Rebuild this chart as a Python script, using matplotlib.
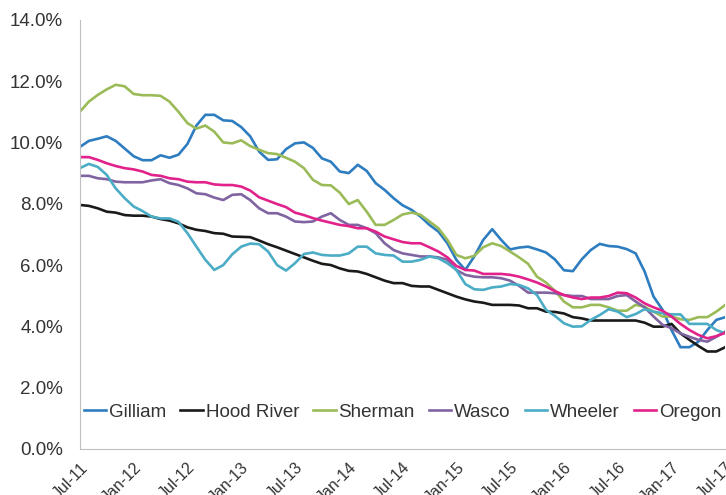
import numpy as np
import matplotlib
matplotlib.use("Agg")
import matplotlib.pyplot as plt
from matplotlib.ticker import FuncFormatter

plt.rcParams['font.family'] = ['Liberation Sans', 'DejaVu Sans']

# monthly unemployment rate, Jul-11 .. Jul-17
gilliam = [9.85, 10.05, 10.12, 10.2, 10.05, 9.8, 9.55, 9.42, 9.42, 9.58, 9.5, 9.6,
           9.95, 10.55, 10.9, 10.9, 10.72, 10.7, 10.5, 10.2, 9.7, 9.43, 9.45, 9.78,
           9.97, 10.0, 9.82, 9.48, 9.37, 9.05, 9.0, 9.27, 9.07, 8.67, 8.45, 8.18,
           7.95, 7.8, 7.58, 7.31, 7.09, 6.71, 6.17, 5.84, 6.28, 6.82, 7.17, 6.82,
           6.51, 6.57, 6.6, 6.51, 6.41, 6.18, 5.83, 5.8, 6.19, 6.49, 6.69, 6.62,
           6.6, 6.52, 6.38, 5.79, 4.97, 4.54, 3.88, 3.32, 3.32, 3.5, 3.88, 4.21, 4.3]
hood_river = [7.96, 7.93, 7.85, 7.74, 7.71, 7.63, 7.61, 7.61, 7.58, 7.5, 7.45, 7.36,
              7.23, 7.15, 7.11, 7.04, 7.02, 6.93, 6.92, 6.91, 6.8, 6.68, 6.58, 6.47,
              6.36, 6.25, 6.14, 6.04, 6.0, 5.89, 5.81, 5.79, 5.71, 5.6, 5.49, 5.41,
              5.41, 5.32, 5.3, 5.3, 5.19, 5.08, 4.97, 4.88, 4.81, 4.77, 4.7, 4.7,
              4.7, 4.68, 4.59, 4.59, 4.48, 4.47, 4.42, 4.3, 4.26, 4.19, 4.19, 4.19,
              4.19, 4.19, 4.19, 4.12, 3.99, 3.99, 4.08, 3.77, 3.56, 3.36, 3.18, 3.18, 3.32]
sherman = [11.0, 11.33, 11.55, 11.73, 11.88, 11.83, 11.58, 11.54, 11.54, 11.52, 11.33, 11.0,
           10.63, 10.45, 10.55, 10.35, 10.0, 9.97, 10.07, 9.88, 9.76, 9.65, 9.62, 9.5,
           9.37, 9.16, 8.78, 8.61, 8.6, 8.36, 7.99, 8.12, 7.74, 7.31, 7.31, 7.47,
           7.65, 7.71, 7.64, 7.42, 7.2, 6.82, 6.33, 6.22, 6.3, 6.58, 6.71, 6.62,
           6.44, 6.25, 6.04, 5.62, 5.43, 5.16, 4.81, 4.62, 4.62, 4.7, 4.7, 4.62,
           4.51, 4.51, 4.7, 4.64, 4.48, 4.32, 4.32, 4.23, 4.21, 4.3, 4.3, 4.48, 4.7]
wasco = [8.91, 8.91, 8.83, 8.8, 8.72, 8.7, 8.7, 8.7, 8.76, 8.8, 8.67, 8.61,
         8.5, 8.34, 8.31, 8.2, 8.12, 8.29, 8.31, 8.12, 7.85, 7.69, 7.69, 7.58,
         7.42, 7.4, 7.42, 7.58, 7.69, 7.47, 7.31, 7.31, 7.2, 7.04, 6.71, 6.49,
         6.38, 6.33, 6.28, 6.28, 6.25, 6.17, 5.84, 5.68, 5.62, 5.6, 5.6, 5.57,
         5.49, 5.32, 5.1, 5.1, 5.1, 5.08, 5.02, 4.99, 4.99, 4.89, 4.89, 4.89,
         4.99, 5.02, 4.81, 4.62, 4.32, 4.05, 3.94, 3.77, 3.66, 3.56, 3.5, 3.66, 3.83]
wheeler = [9.16, 9.3, 9.2, 8.94, 8.5, 8.18, 7.91, 7.76, 7.58, 7.52, 7.52, 7.41,
           7.04, 6.6, 6.17, 5.84, 6.0, 6.35, 6.6, 6.7, 6.68, 6.44, 6.0, 5.82,
           6.06, 6.36, 6.41, 6.33, 6.31, 6.31, 6.38, 6.6, 6.6, 6.38, 6.33, 6.31,
           6.11, 6.11, 6.17, 6.28, 6.22, 6.06, 5.84, 5.38, 5.21, 5.19, 5.27, 5.3,
           5.38, 5.35, 5.24, 5.02, 4.54, 4.34, 4.1, 3.99, 4.0, 4.21, 4.37, 4.56,
           4.48, 4.3, 4.4, 4.56, 4.48, 4.43, 4.39, 4.39, 4.08, 4.08, 4.08, 3.88, 3.77]
oregon = [9.52, 9.52, 9.43, 9.32, 9.23, 9.16, 9.12, 9.05, 8.94, 8.91, 8.83, 8.8,
          8.72, 8.7, 8.7, 8.63, 8.61, 8.61, 8.56, 8.43, 8.21, 8.1, 7.99, 7.89,
          7.71, 7.63, 7.53, 7.45, 7.38, 7.31, 7.27, 7.2, 7.2, 7.09, 6.93, 6.84,
          6.75, 6.71, 6.71, 6.58, 6.44, 6.25, 5.97, 5.84, 5.82, 5.71, 5.71, 5.71,
          5.68, 5.62, 5.53, 5.43, 5.3, 5.15, 5.02, 4.94, 4.89, 4.94, 4.94, 4.99,
          5.1, 5.08, 4.94, 4.75, 4.62, 4.51, 4.32, 4.08, 3.88, 3.72, 3.61, 3.68, 3.79]

names = ["Gilliam", "Hood River", "Sherman", "Wasco", "Wheeler", "Oregon"]
colors = ["#2E7DC0", "#1A1A1A", "#9BBB59", "#8064A2", "#4BACC6", "#E2228B"]
tick_labels = ["Jul-11", "Jan-12", "Jul-12", "Jan-13", "Jul-13", "Jan-14", "Jul-14",
               "Jan-15", "Jul-15", "Jan-16", "Jul-16", "Jan-17", "Jul-17"]

series = [gilliam, hood_river, sherman, wasco, wheeler, oregon]
months = np.arange(len(gilliam))

fig = plt.figure(figsize=(7.26, 4.95), dpi=100)
ax = fig.add_axes([0.110, 0.093, 0.889, 0.867])

for vals, name, col in zip(series, names, colors):
    ax.plot(months, vals, color=col, lw=1.9, label=name)

ax.set_xlim(0, 72)
ax.set_ylim(0, 14)
ax.set_yticks(np.arange(0, 15, 2))
ax.yaxis.set_major_formatter(FuncFormatter(lambda v, p: f"{v:.1f}%"))
ax.set_xticks(np.arange(0, 73, 6))
ax.set_xticklabels(tick_labels, rotation=45, ha="right", va="top",
                   rotation_mode="anchor")

ax.tick_params(axis="y", length=0, pad=12, labelsize=13.5, labelcolor="#333333")
ax.tick_params(axis="x", length=0, pad=8, labelsize=11.5, labelcolor="#333333")

ax.spines["top"].set_visible(False)
ax.spines["right"].set_visible(False)
ax.spines["left"].set_color("#BFBFBF")
ax.spines["bottom"].set_color("#BFBFBF")

ax.legend(loc="center", bbox_to_anchor=(0.5, 0.086), ncol=6, frameon=False,
          fontsize=13.5, handlelength=1.2, handletextpad=0.15,
          columnspacing=0.75, labelcolor="#333333")

fig.savefig("out.png", dpi=100)
